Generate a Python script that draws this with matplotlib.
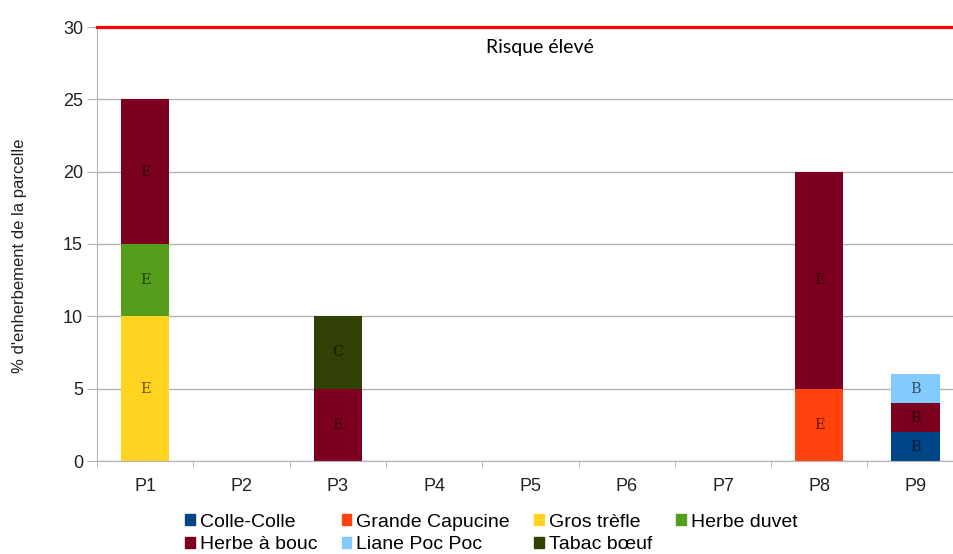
import numpy as np
import matplotlib.pyplot as plt
from matplotlib.patches import Patch

# parcelles
parcelles = ['P1', 'P2', 'P3', 'P4', 'P5', 'P6', 'P7', 'P8', 'P9']

# % d'enherbement par espece (empilement dans cet ordre)
especes = ['Colle-Colle', 'Grande Capucine', 'Gros trèfle', 'Herbe duvet',
           'Herbe à bouc', 'Liane Poc Poc', 'Tabac bœuf']
colle_colle = [0, 0, 0, 0, 0, 0, 0, 0, 2]
grande_capucine = [0, 0, 0, 0, 0, 0, 0, 5, 0]
gros_trefle = [10, 0, 0, 0, 0, 0, 0, 0, 0]
herbe_duvet = [5, 0, 0, 0, 0, 0, 0, 0, 0]
herbe_a_bouc = [10, 0, 5, 0, 0, 0, 0, 15, 2]
liane_poc_poc = [0, 0, 0, 0, 0, 0, 0, 0, 2]
tabac_boeuf = [0, 0, 5, 0, 0, 0, 0, 0, 0]

# lettre affichee dans chaque segment
lettres_colle = ['', '', '', '', '', '', '', '', 'B']
lettres_capucine = ['', '', '', '', '', '', '', 'E', '']
lettres_trefle = ['E', '', '', '', '', '', '', '', '']
lettres_duvet = ['E', '', '', '', '', '', '', '', '']
lettres_bouc = ['E', '', 'E', '', '', '', '', 'E', 'B']
lettres_liane = ['', '', '', '', '', '', '', '', 'B']
lettres_tabac = ['', '', 'C', '', '', '', '', '', '']

seuil = 30

series = [colle_colle, grande_capucine, gros_trefle, herbe_duvet,
          herbe_a_bouc, liane_poc_poc, tabac_boeuf]
lettres = [lettres_colle, lettres_capucine, lettres_trefle, lettres_duvet,
           lettres_bouc, lettres_liane, lettres_tabac]
couleurs = ['#004586', '#ff420e', '#ffd320', '#579d1c',
            '#7e0021', '#83caff', '#314004']

fig = plt.figure(figsize=(9.54, 5.54), dpi=100)
ax = fig.add_axes([97/954, 1 - 461/554, 866.7/954, 434/554])

x = np.arange(len(parcelles))
bas = np.zeros(len(parcelles))
for vals, lab, col in zip(series, lettres, couleurs):
    vals = np.array(vals, dtype=float)
    ax.bar(x, vals, 0.5, bottom=bas, color=col, zorder=2)
    fonce = tuple(c * 0.4 for c in plt.matplotlib.colors.to_rgb(col))
    for i in range(len(x)):
        if vals[i] > 0 and lab[i]:
            ax.text(x[i], bas[i] + vals[i] / 2, lab[i], ha='center', va='center',
                    family='DejaVu Serif', fontsize=10.5, color=fonce, zorder=3)
    bas += vals

# seuil de risque
ax.axhline(seuil, color='#ff0000', lw=2.3, zorder=4, clip_on=False)
ax.text(4.1, 28.6, 'Risque élevé', ha='center', va='center',
        family='Lato', fontsize=14, color='black')

ax.set_xlim(-0.5, len(parcelles) - 0.5)
ax.set_ylim(0, seuil)
ax.set_yticks(range(0, 31, 5))
ax.set_xticks(x)
ax.set_xticklabels(parcelles)
ax.set_xticks(np.arange(-0.5, len(parcelles), 1), minor=True)
ax.tick_params(axis='x', which='major', length=0, pad=12, labelsize=13,
               labelcolor='#222222')
ax.tick_params(axis='x', which='minor', length=5, color='#b3b3b3', direction='out')
ax.tick_params(axis='y', length=7, color='#b3b3b3', labelsize=13,
               labelcolor='#222222', pad=3)
for lbl in ax.get_xticklabels() + ax.get_yticklabels():
    lbl.set_family('Liberation Sans')

ax.yaxis.grid(True, color='#b3b3b3', lw=1, zorder=0)
ax.set_axisbelow(True)
for s in ['top', 'right']:
    ax.spines[s].set_visible(False)
for s in ['left', 'bottom']:
    ax.spines[s].set_color('#b3b3b3')

fig.text(20/954, 1 - 256/554, "% d'enherbement de la parcelle", rotation=90,
         ha='center', va='center', family='Liberation Sans', fontsize=12,
         color='#222222')

# legende sur deux lignes, remplie par colonnes
ordre = [0, 4, 1, 5, 2, 6, 3]
poignees = [Patch(color=couleurs[i]) for i in ordre]
noms = [especes[i] for i in ordre]
fig.legend(poignees, noms, ncol=4, loc='center', bbox_to_anchor=(0.515, 0.037),
           frameon=False, prop={'family': 'Liberation Sans', 'size': 14},
           handlelength=0.5, handleheight=0.5, handletextpad=0.25,
           columnspacing=1.25, labelspacing=0.3, borderpad=0)

fig.savefig('out.png', dpi=100)
